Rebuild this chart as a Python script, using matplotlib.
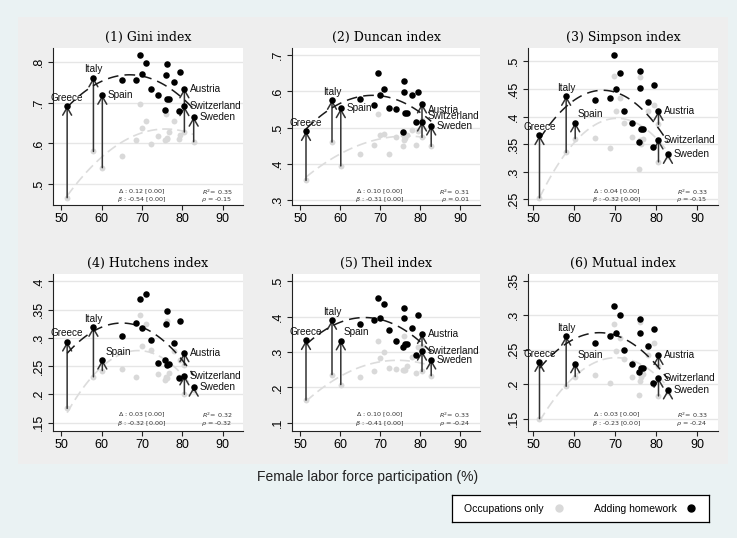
import numpy as np
import matplotlib
matplotlib.use('Agg')
import matplotlib.pyplot as plt
from matplotlib.patches import Rectangle
from matplotlib.lines import Line2D

# female labor force participation (x), same countries in every panel
flp = [51.5, 58.0, 60.2, 65.1, 68.6, 69.6, 70.1, 71.1, 72.2, 74.0, 75.8,
       76.0, 76.1, 76.3, 76.8, 78.0, 79.1, 79.5, 80.5, 80.5, 82.8]
labels = {0: 'Greece', 1: 'Italy', 2: 'Spain', 18: 'Austria', 19: 'Switzerland', 20: 'Sweden'}

titles = ['(1) Gini index', '(2) Duncan index', '(3) Simpson index',
          '(4) Hutchens index', '(5) Theil index', '(6) Mutual index']

# occupations only (grey) / adding homework (black)
occ_gini = [.466, .580, .540, .570, .607, .696, .637, .655, .599, .619, .607,
            .672, .614, .610, .627, .656, .610, .620, .692, .628, .604]
hw_gini = [.692, .762, .719, .756, .756, .818, .772, .797, .735, .719, .682,
           .769, .795, .710, .710, .752, .679, .776, .735, .691, .665]
occ_duncan = [.354, .460, .394, .428, .452, .538, .479, .483, .426, .473, .448,
              .466, .478, .470, .480, .494, .452, .490, .520, .473, .448]
hw_duncan = [.490, .576, .553, .578, .563, .650, .591, .607, .555, .551, .487,
             .598, .630, .540, .540, .589, .516, .598, .566, .516, .505]
occ_simpson = [.253, .335, .360, .361, .343, .474, .410, .433, .388, .363, .306,
               .357, .472, .350, .360, .410, .345, .420, .386, .318, .328]
hw_simpson = [.366, .437, .389, .430, .433, .511, .450, .478, .410, .389, .354,
              .452, .482, .378, .378, .427, .345, .457, .410, .358, .332]
occ_hutchens = [.175, .231, .242, .245, .230, .341, .286, .324, .279, .236, .225,
                .231, .330, .228, .238, .277, .230, .260, .252, .200, .207]
hw_hutchens = [.293, .319, .261, .303, .326, .368, .318, .378, .296, .256, .260,
               .324, .347, .251, .253, .290, .228, .330, .274, .233, .213]
occ_theil = [.164, .236, .208, .228, .247, .332, .282, .301, .256, .252, .248,
             .250, .345, .250, .259, .287, .242, .315, .317, .245, .233]
hw_theil = [.333, .390, .332, .378, .389, .453, .397, .436, .363, .331, .313,
            .397, .424, .323, .323, .368, .292, .405, .350, .303, .278]
occ_mutual = [.150, .197, .211, .214, .202, .288, .248, .267, .236, .211, .185,
              .204, .291, .210, .215, .243, .200, .260, .226, .183, .188]
hw_mutual = [.232, .270, .230, .260, .270, .314, .275, .301, .250, .229, .217,
             .275, .294, .223, .223, .255, .202, .280, .242, .209, .192]

occ_all = [occ_gini, occ_duncan, occ_simpson, occ_hutchens, occ_theil, occ_mutual]
hw_all = [hw_gini, hw_duncan, hw_simpson, hw_hutchens, hw_theil, hw_mutual]

yticks_all = [[.5, .6, .7, .8], [.3, .4, .5, .6, .7], [.25, .3, .35, .4, .45, .5],
              [.15, .2, .25, .3, .35, .4], [.1, .2, .3, .4, .5], [.15, .2, .25, .3, .35]]
xticks = [50, 60, 70, 80, 90]

delta_txt = ['0.12', '0.10', '0.04', '0.03', '0.10', '0.03']
beta_txt = ['-0.54', '-0.31', '-0.32', '-0.32', '-0.41', '-0.23']
r2_txt = ['0.35', '0.31', '0.33', '0.32', '0.33', '0.33']
rho_txt = ['-0.15', '0.01', '-0.15', '-0.32', '-0.24', '-0.24']

# layout (pixels)
W, H = 737, 538
col_left = [53, 292, 528]
col_w = [190, 188, 190]
col_xlim = [(48, 95), (48, 95), (48.7, 95)]
row_top = [48, 274]
ax_h = 157
ylims = [(0.448, 0.835), (0.286, 0.72), (0.240, 0.524),
         (0.135, 0.413), (0.077, 0.52), (0.132, 0.36)]

GREY = '#d9d9d9'
SANS = 'Liberation Sans'


def fmt(v):
    s = f'{v:g}'
    return s[1:] if s.startswith('0') else s


def px_box(l, t, w, h):
    return [l / W, 1 - (t + h) / H, w / W, h / H]


fig = plt.figure(figsize=(W / 100, H / 100), dpi=100)
fig.patch.set_facecolor('#eaf2f3')
fig.patches.append(Rectangle((18 / W, 1 - 464 / H), (728 - 18) / W, (464 - 17) / H,
                             transform=fig.transFigure, facecolor='#eeeeee',
                             edgecolor='none', zorder=-10))

x = np.array(flp)
for k in range(6):
    r, c = divmod(k, 3)
    ax = fig.add_axes(px_box(col_left[c], row_top[r], col_w[c], ax_h))
    ax.set_facecolor('white')
    occ = np.array(occ_all[k])
    hw = np.array(hw_all[k])

    xx = np.linspace(x.min(), x.max(), 100)
    ax.plot(xx, np.polyval(np.polyfit(x, occ, 2), xx), color='#dcdcdc', lw=1.2,
            ls=(0, (6, 3)), zorder=2)
    ax.scatter(x, occ, s=18, color=GREY, linewidths=0, zorder=3)

    for i, name in labels.items():
        ax.annotate('', xy=(x[i], hw[i]), xytext=(x[i], occ[i]),
                    arrowprops=dict(arrowstyle='->,head_length=0.55,head_width=0.32',
                                    color='#333333', lw=1.1, shrinkA=0, shrinkB=0),
                    zorder=4)

    ax.plot(xx, np.polyval(np.polyfit(x, hw, 2), xx), color='#1a1a1a', lw=1.1,
            ls=(0, (7, 4)), zorder=5)
    ax.scatter(x, hw, s=22, color='black', linewidths=0, zorder=6)

    for i, name in labels.items():
        if name in ('Greece', 'Italy'):
            off, ha = (0, 6), 'center'
        elif name == 'Spain' and k >= 2:
            off, ha = (2, 6), 'left'
        else:
            off, ha = (4, 0), 'left'
        if k == 1 and name == 'Austria':
            off = (4, -4.5)
        if k == 1 and name == 'Switzerland':
            off = (4, 4)
        ax.annotate(name, (x[i], hw[i]), xytext=off, textcoords='offset points',
                    ha=ha, va='center', fontsize=7.2, family=SANS, color='#111111',
                    zorder=7)

    # statistics text
    yd, yb = (13, 6) if r == 0 else (16, 8)
    ax.text(0.465, yd / ax_h, '$\\Delta$ : %s [0.00]' % delta_txt[k], transform=ax.transAxes,
            ha='center', va='center', fontsize=4.6, color='#333333')
    ax.text(0.465, yb / ax_h, '$\\beta$ : %s [0.00]' % beta_txt[k], transform=ax.transAxes,
            ha='center', va='center', fontsize=4.6, color='#333333')
    ax.text(0.945, yd / ax_h, '$R^2$= %s' % r2_txt[k], transform=ax.transAxes,
            ha='right', va='center', fontsize=4.6, color='#333333')
    ax.text(0.945, yb / ax_h, '$\\rho$ = %s' % rho_txt[k], transform=ax.transAxes,
            ha='right', va='center', fontsize=4.6, color='#333333')

    ax.set_xlim(*col_xlim[c])
    ax.set_ylim(*ylims[k])
    ax.set_xticks(xticks)
    ax.set_xticklabels([str(v) for v in xticks], family=SANS, fontsize=9)
    ax.set_yticks(yticks_all[k])
    ax.set_yticklabels([fmt(v) for v in yticks_all[k]], family=SANS, fontsize=9,
                       rotation=90, va='center')
    ax.tick_params(length=3.5, width=0.8, color='#222222', pad=2)
    ax.grid(axis='y', color='#e6e6e6', lw=1.0)
    ax.set_axisbelow(True)
    for side in ('top', 'right'):
        ax.spines[side].set_visible(False)
    for side in ('left', 'bottom'):
        ax.spines[side].set_color('#222222')
        ax.spines[side].set_linewidth(0.8)
    ax.set_title(titles[k], family='DejaVu Serif', fontsize=9, pad=5)

fig.text(368 / W, 1 - 477 / H, 'Female labor force participation (%)', family=SANS,
         fontsize=10, ha='center', va='center', color='#222222')

# legend box
lax = fig.add_axes(px_box(452, 495, 257, 27))
lax.set_facecolor('white')
lax.set_xticks([])
lax.set_yticks([])
for sp in lax.spines.values():
    sp.set_color('black')
    sp.set_linewidth(0.9)
handles = [Line2D([], [], marker='o', ls='', color=GREY, markersize=5),
           Line2D([], [], marker='o', ls='', color='black', markersize=5)]
lax.legend(handles, ['Occupations only', 'Adding homework'], loc='center', ncol=2,
           frameon=False, markerfirst=False, handlelength=1.0, handletextpad=0.9,
           columnspacing=2.9, prop={'family': SANS, 'size': 7.5})

fig.savefig('out.png', dpi=100, facecolor=fig.get_facecolor())
